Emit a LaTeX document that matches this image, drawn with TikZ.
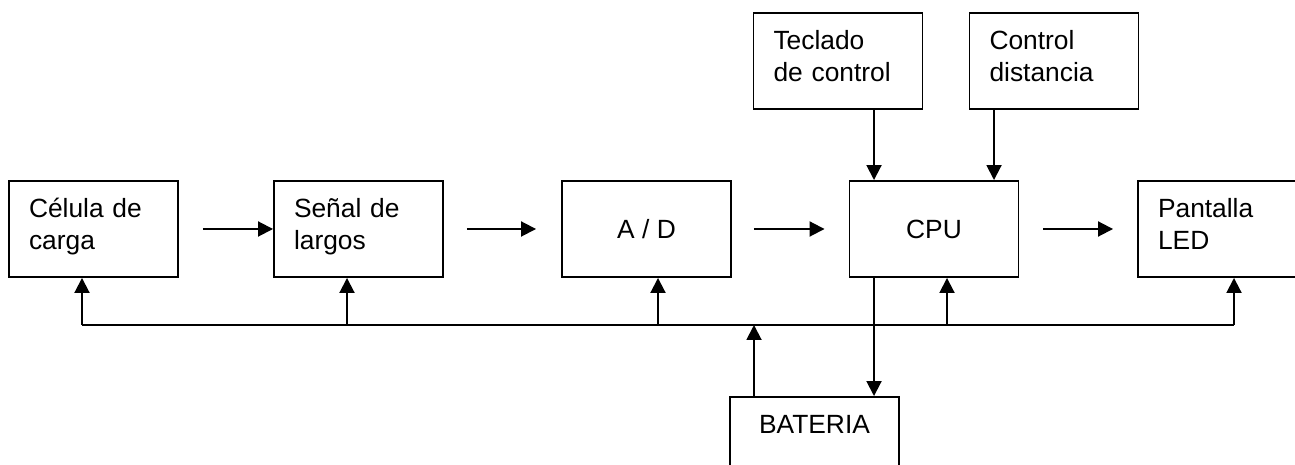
\documentclass[tikz,border=0pt]{standalone}
\usepackage{fontspec}
\setmainfont{Liberation Sans}
\usetikzlibrary{arrows.meta}

\begin{document}
\begin{tikzpicture}[>={Triangle[length=3mm,width=3mm]}, font=\fontsize{15pt}{18pt}\selectfont,
  line width=1.1pt,
  bloque/.style={draw, minimum width=3.38cm, minimum height=1.92cm},
  txt/.style={bloque, text width=2.58cm, align=left, inner xsep=0.4cm, inner ysep=0.35cm, text height=0.38cm, text depth=0.84cm}]
\path[clip, use as bounding box] (0,0) rectangle (25.9,9.3);

\node[txt] (celula) at (1.87,4.72) {Célula de\\carga};
\node[txt] (senal) at (7.17,4.72) {Señal de\\largos};
\node[bloque] (ad) at (12.93,4.72) {A / D};
\node[bloque] (cpu) at (18.68,4.72) {CPU};
\node[txt] (pantalla) at (24.45,4.72) {Pantalla\\LED};
\node[txt] (teclado) at (16.76,8.08) {Teclado\\de control};
\node[txt] (distancia) at (21.08,8.08) {Control\\distancia};
\node[txt, align=center] (bateria) at (16.29,0.40) {BATERIA};

\draw[->] ([xshift=0.48cm]celula.east) -- (senal.west);
\draw[->] ([xshift=0.46cm]senal.east) -- ([xshift=-0.5cm]ad.west);
\draw[->] ([xshift=0.44cm]ad.east) -- ([xshift=-0.48cm]cpu.west);
\draw[->] ([xshift=0.48cm]cpu.east) -- ([xshift=-0.48cm]pantalla.west);

\draw[->] ([xshift=0.72cm]teclado.south) -- ([xshift=0.72cm]teclado.south |- cpu.north);
\draw[->] ([xshift=-1.2cm]distancia.south) -- ([xshift=-1.2cm]distancia.south |- cpu.north);
\draw[->] ([xshift=-1.2cm]cpu.south) -- ([xshift=-1.2cm]cpu.south |- bateria.north);

% bus de alimentacion
\coordinate (busL) at (1.64,2.80);
\coordinate (busR) at (24.68,2.80);
\draw (busL) -- (busR);
\draw[->] (busL) -- (busL |- celula.south);
\draw[->] ([xshift=-0.23cm]senal.south |- busL) -- ([xshift=-0.23cm]senal.south);
\draw[->] ([xshift=0.23cm]ad.south |- busL) -- ([xshift=0.23cm]ad.south);
\draw[->] ([xshift=0.26cm]cpu.south |- busL) -- ([xshift=0.26cm]cpu.south);
\draw[->] (busR) -- (busR |- pantalla.south);
\draw[->] ([xshift=-1.21cm]bateria.north) -- ([xshift=-1.21cm]bateria.north |- busL);
\end{tikzpicture}
\end{document}
